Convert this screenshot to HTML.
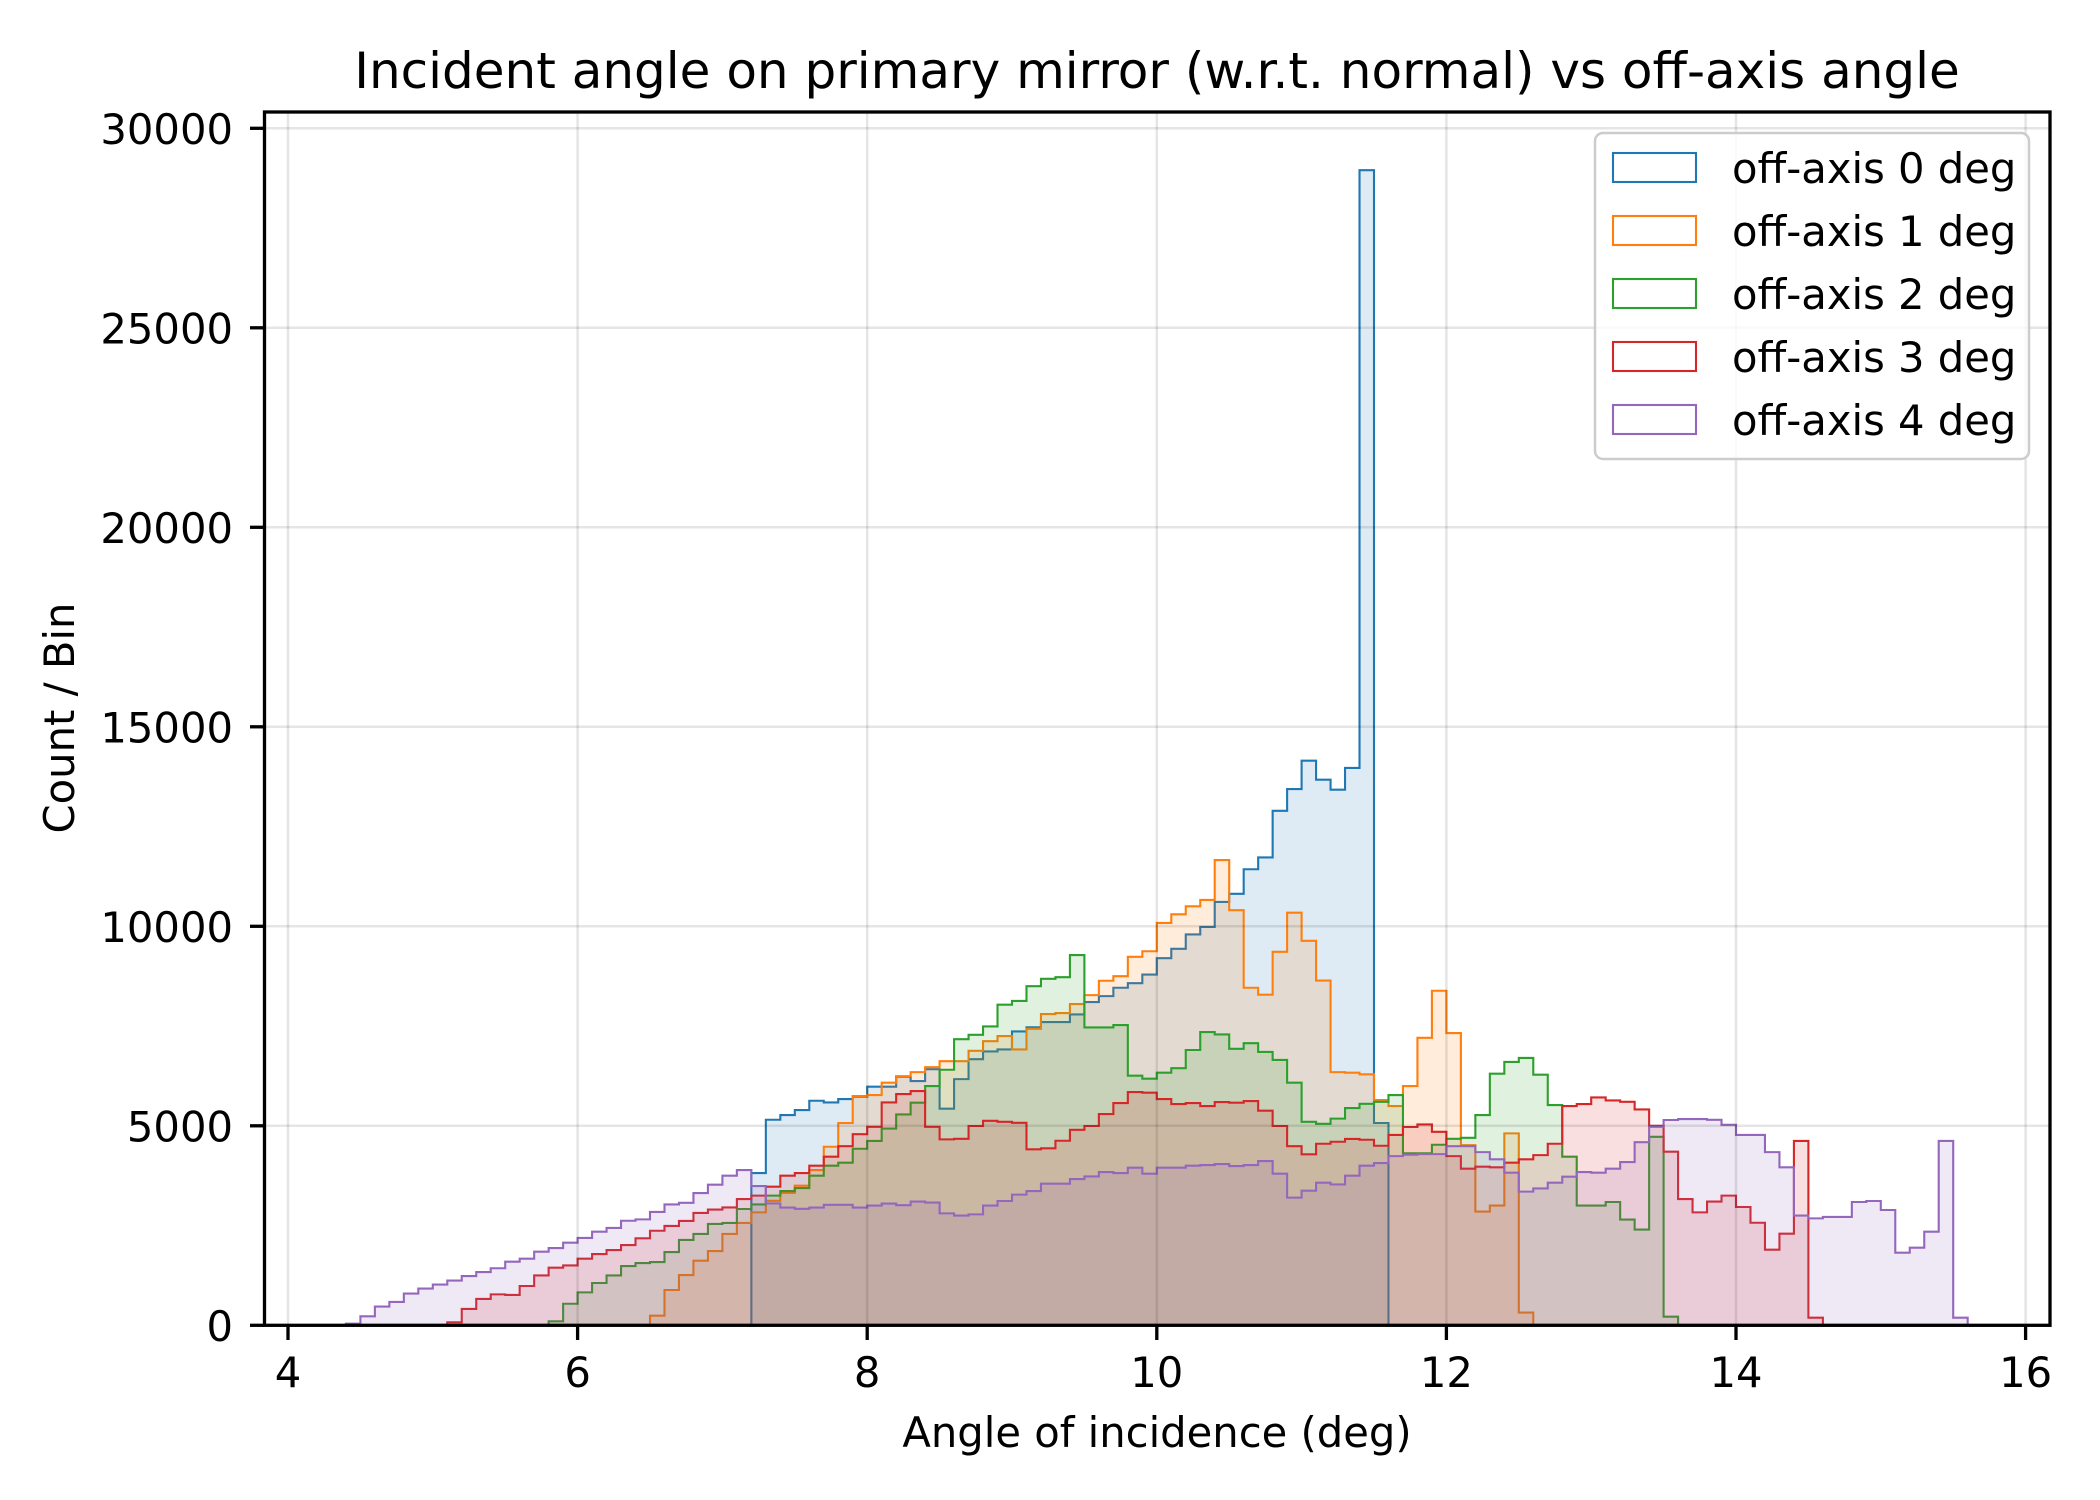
<!DOCTYPE html>
<html><head><meta charset="utf-8"><style>
html,body{margin:0;padding:0;background:#fff;}
svg{display:block;}
text{font-family:"DejaVu Sans","Liberation Sans",sans-serif;fill:#000;}
</style></head><body>
<svg id="s" width="2100" height="1500" viewBox="0 0 2100 1500" xmlns="http://www.w3.org/2000/svg">
<rect x="0" y="0" width="2100" height="1500" fill="#fff"/>
<g id="series"></g>
<g id="grid" stroke="#000" stroke-opacity="0.1" stroke-width="2.5"></g>
<rect x="264.5" y="112" width="1785.5" height="1213.3" fill="none" stroke="#000" stroke-width="3.3"/>
<g id="ticks" stroke="#000" stroke-width="3.3"></g>
<g id="labels" font-size="41.7"></g>
<text x="1157" y="88" font-size="50" text-anchor="middle">Incident angle on primary mirror (w.r.t. normal) vs off-axis angle</text>
<text x="1157" y="1447" font-size="41.7" text-anchor="middle">Angle of incidence (deg)</text>
<text transform="translate(74,718) rotate(-90)" font-size="41.7" text-anchor="middle">Count / Bin</text>
<rect x="1595" y="133" width="434" height="326" rx="8" fill="#fff" fill-opacity="0.8" stroke="#cccccc" stroke-width="2.5"/>
<g id="legend" font-size="41.7"></g>
</svg>
<script>
var NS="http://www.w3.org/2000/svg";
function X(d){return 288+144.8*(d-4);}
function Y(v){return 1325.3-v*0.0399;}
function el(tag,attrs,parent,txt){var e=document.createElementNS(NS,tag);for(var k in attrs)e.setAttribute(k,attrs[k]);if(txt!==undefined)e.textContent=txt;parent.appendChild(e);return e;}
var S=[
{c:"#1f77b4",s:7.2,v:[3816,5152,5269,5394,5628,5586,5670,5730,5980,5980,6230,6120,6420,5430,6170,6670,6865,6915,7365,7470,7600,7600,7790,8100,8250,8460,8575,8790,9200,9435,9795,9985,10610,10815,11430,11725,12895,13440,14150,13675,13425,13970,28950,5070]},
{c:"#ff7f0e",s:6.5,v:[240,885,1260,1620,1860,2290,2565,2830,3120,3320,3500,3890,4475,5070,5745,5770,6080,6245,6345,6470,6620,6620,6880,7120,7250,6915,7430,7800,7825,8050,8275,8635,8750,9235,9375,10085,10300,10500,10660,11660,10404,8460,8285,9360,10340,9635,8640,6345,6330,6290,5645,5495,5995,7205,8385,7325,4515,2850,3000,4810,320]},
{c:"#2ca02c",s:5.8,v:[100,540,825,1060,1250,1485,1560,1585,1835,2140,2290,2540,2565,2915,3030,3250,3365,3440,3750,4000,4075,4425,4620,4930,5285,5580,5995,6405,7170,7280,7490,8035,8130,8500,8685,8725,9280,7465,7465,7525,6255,6180,6330,6445,6900,7348,7290,6930,7070,6850,6650,6080,5100,5050,5180,5445,5550,5600,5770,4310,4310,4525,4675,4700,5270,6305,6600,6700,6280,5520,4225,3000,3000,3090,2650,2400,4725,215]},
{c:"#d62728",s:5.1,v:[75,410,660,775,760,985,1250,1445,1500,1670,1785,1885,2010,2180,2370,2490,2615,2815,2900,2955,3165,3250,3475,3750,3815,4000,4225,4490,4790,4975,5585,5795,5870,4975,4660,4675,4995,5125,5100,5075,4410,4435,4625,4900,4995,5295,5570,5845,5830,5670,5545,5570,5495,5595,5580,5620,5380,4995,4490,4285,4550,4600,4670,4650,4500,4770,4970,5035,4850,4240,3925,3975,3960,4075,4160,4265,4550,5495,5545,5710,5635,5600,5410,5000,4350,3165,2830,3100,3250,2965,2570,1895,2295,4620,190]},
{c:"#9467bd",s:4.4,v:[40,225,470,585,795,920,1020,1120,1235,1335,1430,1595,1670,1845,1935,2070,2190,2345,2440,2620,2655,2840,3030,3070,3315,3525,3750,3890,3490,3055,2950,2920,2950,3020,3020,2950,3000,3050,3010,3100,3075,2805,2750,2780,3000,3115,3275,3365,3550,3550,3665,3730,3840,3815,3950,3800,3950,3950,4000,4015,4040,3990,4015,4115,3800,3200,3375,3575,3530,3750,4000,4065,4240,4275,4290,4290,4490,4490,4340,4160,3825,3350,3430,3575,3725,3840,3825,3925,4090,4590,4975,5145,5170,5170,5150,5025,4770,4770,4340,3960,2750,2680,2715,2715,3090,3115,2890,1820,1945,2345,4620,190]}
];
var g=document.getElementById("series");
S.forEach(function(s){
  var d="M"+X(s.s).toFixed(2)+" "+Y(0).toFixed(2);
  for(var i=0;i<s.v.length;i++){
    var x0=X(s.s+0.1*i),x1=X(s.s+0.1*(i+1)),y=Y(s.v[i]);
    d+=" L"+x0.toFixed(2)+" "+y.toFixed(2)+" L"+x1.toFixed(2)+" "+y.toFixed(2);
  }
  d+=" L"+X(s.s+0.1*s.v.length).toFixed(2)+" "+Y(0).toFixed(2);
  el("path",{d:d+" Z",fill:s.c,"fill-opacity":"0.15",stroke:"none"},g);
  el("path",{d:d,fill:"none",stroke:s.c,"stroke-width":"2.1","stroke-linejoin":"miter"},g);
});
var gr=document.getElementById("grid"),tk=document.getElementById("ticks"),lb=document.getElementById("labels");
for(var d=4;d<=16;d+=2){var x=X(d);
  el("line",{x1:x,y1:112,x2:x,y2:1325.3},gr);
  el("line",{x1:x,y1:1325.3,x2:x,y2:1340},tk);
  el("text",{x:x,y:1387,"text-anchor":"middle"},lb,String(d));}
for(var v=0;v<=30000;v+=5000){var y=Y(v);
  el("line",{x1:264.5,y1:y,x2:2050,y2:y},gr);
  el("line",{x1:250,y1:y,x2:264.5,y2:y},tk);
  el("text",{x:233,y:y+15.5,"text-anchor":"end"},lb,String(v));}
var lg=document.getElementById("legend");
S.forEach(function(s,i){var y=153+63*i;
  el("rect",{x:1613,y:y,width:83,height:29,fill:"none",stroke:s.c,"stroke-width":"2.1"},lg);
  el("text",{x:1732,y:y+30},lg,"off-axis "+i+" deg");});
</script>
</body></html>
